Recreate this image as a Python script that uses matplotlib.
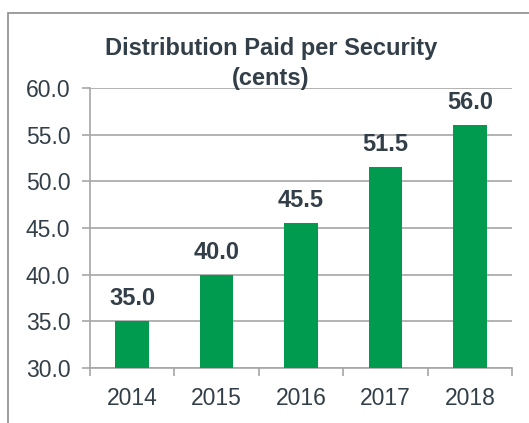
import matplotlib
matplotlib.use("Agg")
import matplotlib.pyplot as plt
from matplotlib.patches import Rectangle

plt.rcParams['font.family'] = ['Liberation Sans', 'DejaVu Sans']

# data
years = ["2014", "2015", "2016", "2017", "2018"]
cents = [35.0, 40.0, 45.5, 51.5, 56.0]

green = "#009B4E"
dark = "#333F48"
grey = "#A6A6A6"

fig = plt.figure(figsize=(5.29, 4.23), dpi=100)
ax = fig.add_axes([0.170, 0.130, 0.798, 0.662])

# outer frame (cropped on the right and bottom)
fig.patches.append(Rectangle((8 / 529, -0.1), 1.2, 1 - 13 / 423 + 0.1,
                             transform=fig.transFigure, fill=False,
                             edgecolor="#8C8C8C", linewidth=1.2))

x = range(len(years))
ax.bar(x, cents, width=0.4, color=green, zorder=3)
for i, v in enumerate(cents):
    ax.annotate(f"{v:.1f}", (i, v), xytext=(0, 8), textcoords="offset points",
                ha="center", va="bottom", fontsize=17, fontweight="bold", color=dark)

ax.set_ylim(30, 60)
ax.set_xlim(-0.5, len(years) - 0.5)
ax.set_yticks([30, 35, 40, 45, 50, 55, 60])
ax.set_yticklabels([f"{t:.1f}" for t in [30, 35, 40, 45, 50, 55, 60]])
ax.set_xticks(list(x))
ax.set_xticklabels(years)
ax.set_xticks([i - 0.5 for i in range(len(years) + 1)], minor=True)
ax.tick_params(axis="x", which="major", length=0, pad=14, labelsize=16.5, labelcolor=dark)
ax.tick_params(axis="x", which="minor", length=6, color=grey, width=1.2)
ax.tick_params(axis="y", length=6, color=grey, width=1.2, pad=8, labelsize=16.5, labelcolor=dark)
ax.grid(axis="y", color=grey, linewidth=1.2, zorder=0)
for s in ["top", "right"]:
    ax.spines[s].set_visible(False)
for s in ["left", "bottom"]:
    ax.spines[s].set_color(grey)
    ax.spines[s].set_linewidth(1.2)

fig.text(271 / 529, 1 - 48 / 423, "Distribution Paid per Security", ha="center", va="center",
         fontsize=17, fontweight="bold", color=dark)
fig.text(271 / 529, 1 - 79 / 423, "(cents)", ha="center", va="center",
         fontsize=17, fontweight="bold", color=dark)

fig.savefig("out.png", dpi=100)
